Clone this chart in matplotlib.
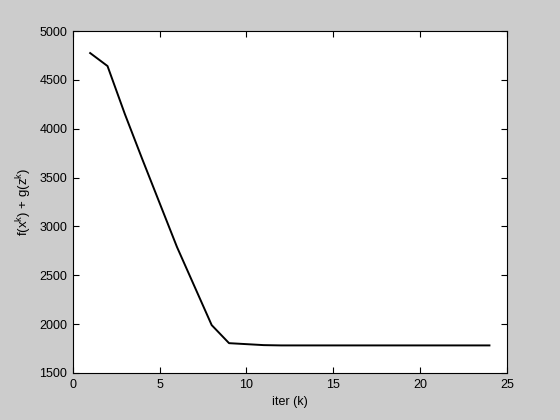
import matplotlib
matplotlib.use("Agg")
import matplotlib.pyplot as plt

plt.rcParams['font.family'] = ['Liberation Sans', 'DejaVu Sans']
plt.rcParams['mathtext.fontset'] = 'custom'
plt.rcParams['mathtext.rm'] = 'Liberation Sans'
plt.rcParams['mathtext.it'] = 'Liberation Sans'

iters = list(range(1, 25))
objective = [4775, 4642, 4150, 3690, 3240, 2790, 2390, 1990, 1805, 1795, 1785,
             1782, 1782, 1782, 1782, 1782, 1782, 1782, 1782, 1782, 1782, 1782, 1782, 1782]
xticks = [0, 5, 10, 15, 20, 25]
yticks = [1500, 2000, 2500, 3000, 3500, 4000, 4500, 5000]

fig = plt.figure(figsize=(5.6, 4.2), dpi=100, facecolor='#cccccc')
ax = fig.add_axes([0.13, 0.112, 0.775, 0.814])
ax.set_facecolor('white')
ax.plot(iters, objective, color='black', lw=1.4)
ax.set_xlim(0, 25)
ax.set_ylim(1500, 5000)
ax.set_xticks(xticks)
ax.set_yticks(yticks)
ax.tick_params(direction='in', top=True, right=True, length=4, width=0.8,
               labelsize=9, pad=4)
for s in ax.spines.values():
    s.set_linewidth(0.8)
ax.set_xlabel('iter (k)', fontsize=9)
ax.set_ylabel(r'f(x$^{\rm k}$) + g(z$^{\rm k}$)', fontsize=9.5)
fig.savefig('out.png', dpi=100, facecolor=fig.get_facecolor())
